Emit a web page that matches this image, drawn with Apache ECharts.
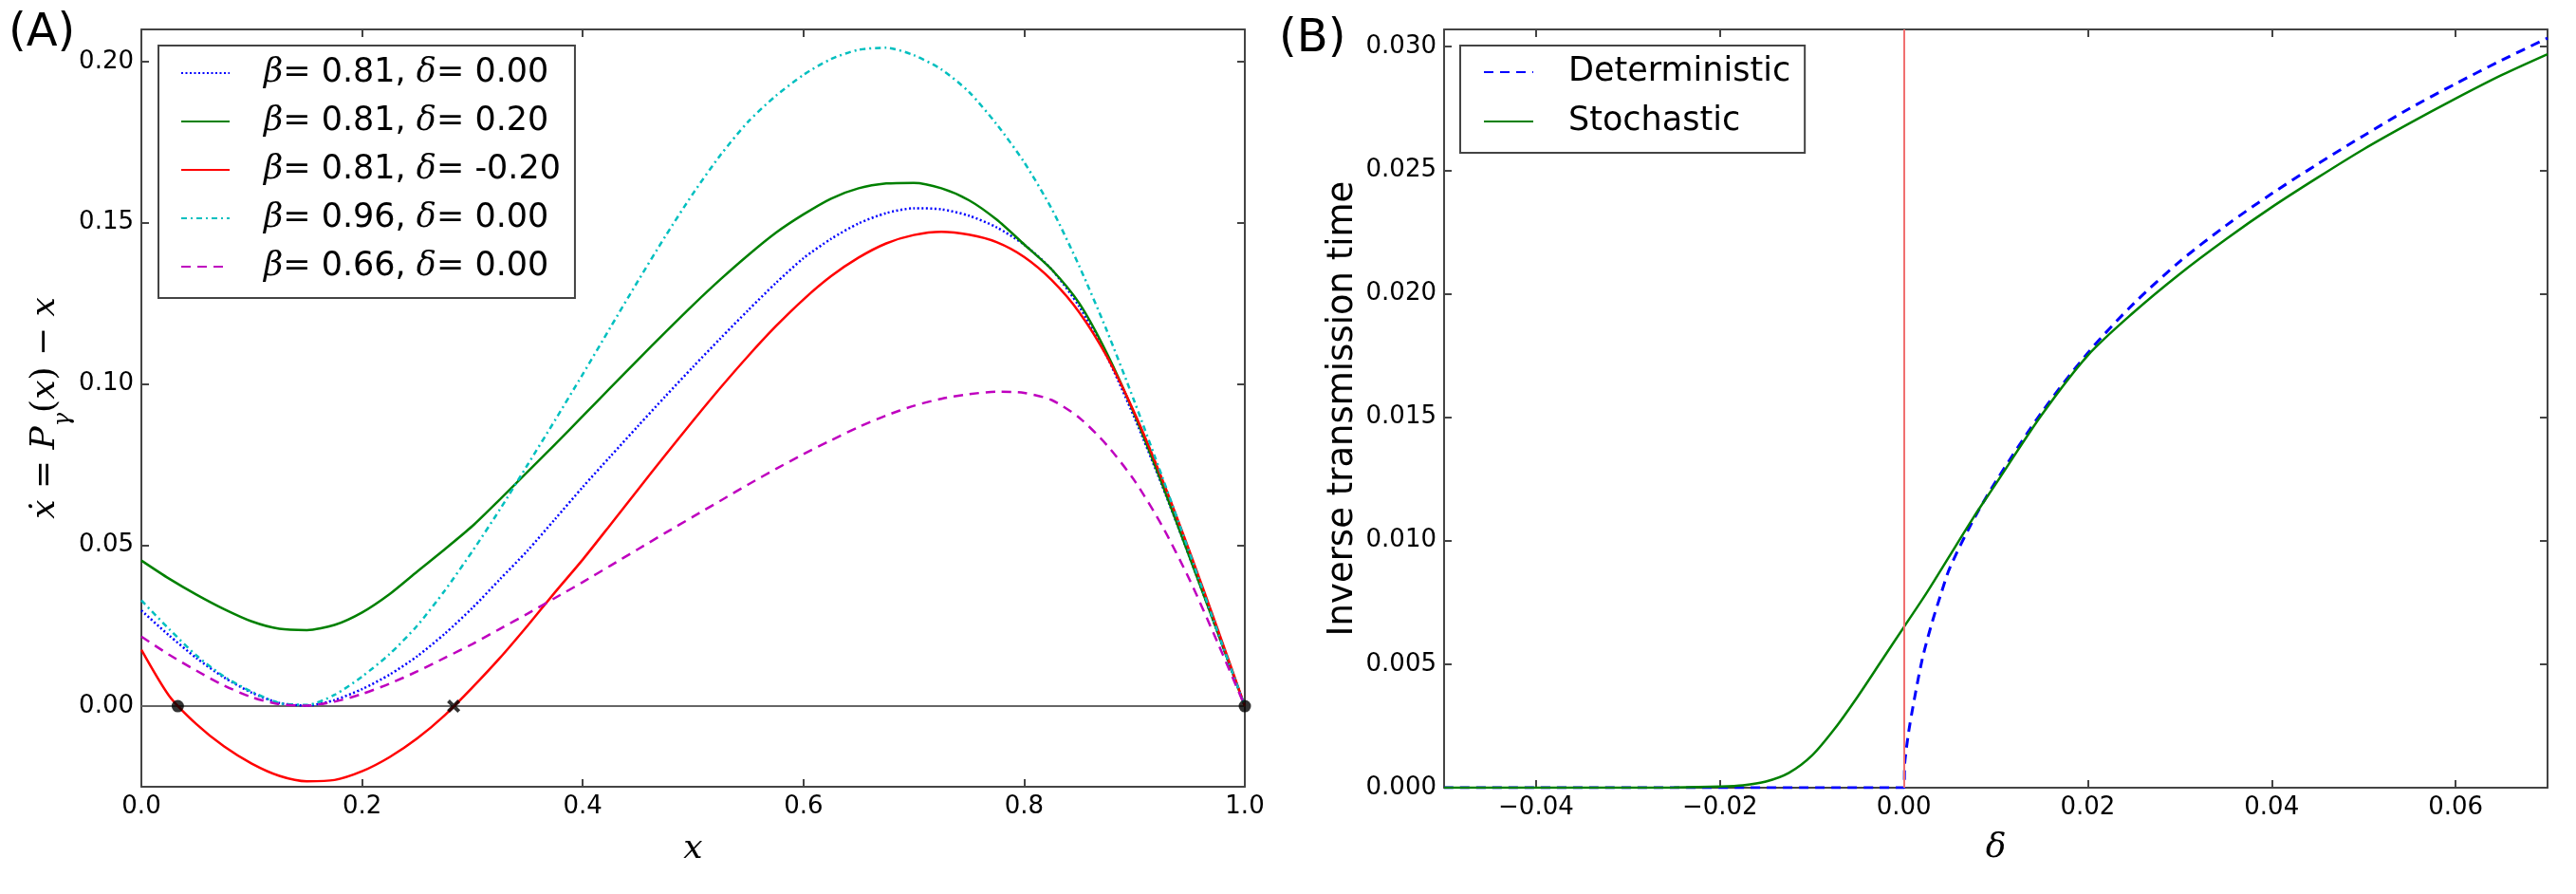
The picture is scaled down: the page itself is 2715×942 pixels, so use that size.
<!DOCTYPE html>
<html>
<head>
    <meta charset="utf-8">
    <title>ECharts</title>
    <script src="https://cdn.jsdelivr.net/npm/echarts@6/dist/echarts.min.js"></script>
    <style>
        body { margin: 0; background: #fff; }
    </style>
</head>
<body>
    <div id="main" style="width: 2715px;height:942px;"></div>
    <script type="text/javascript">
        // panel A: x grid shared by all five curves
        var fracX = [0, 0.025, 0.05, 0.075, 0.1, 0.125, 0.15, 0.175, 0.2, 0.225, 0.25, 0.275, 0.3, 0.325,
            0.35, 0.375, 0.4, 0.425, 0.45, 0.475, 0.5, 0.525, 0.55, 0.575, 0.6, 0.625, 0.65, 0.675,
            0.7, 0.725, 0.75, 0.775, 0.8, 0.825, 0.85, 0.875, 0.9, 0.925, 0.95, 0.975, 1.0];
        var beta081 = [0.0297, 0.0220, 0.0149, 0.0089, 0.0042, 0.0010, 0.0002, 0.0019, 0.0053, 0.0098, 0.0155, 0.0225, 0.0305, 0.0394,
            0.0483, 0.0581, 0.0680, 0.0775, 0.0869, 0.0962, 0.1053, 0.1142, 0.1229, 0.1313, 0.1390, 0.1450, 0.1498, 0.1530,
            0.1545, 0.1542, 0.1522, 0.1486, 0.1432, 0.1355, 0.1240, 0.1085, 0.0895, 0.0685, 0.0462, 0.0232, 0];
        var beta081Up = [0.0452, 0.0396, 0.0346, 0.0301, 0.0263, 0.0240, 0.0236, 0.0252, 0.0291, 0.0348, 0.0418, 0.0487, 0.0559, 0.0642,
            0.0727, 0.0813, 0.0900, 0.0988, 0.1075, 0.1161, 0.1245, 0.1325, 0.1400, 0.1469, 0.1526, 0.1575, 0.1607, 0.1622,
            0.1624, 0.1607, 0.1570, 0.1510, 0.1433, 0.1355, 0.1250, 0.1095, 0.0905, 0.0690, 0.0462, 0.0232, 0];
        var beta081Down = [0.0175, 0.0033, -0.0056, -0.0125, -0.0178, -0.0216, -0.0233, -0.0229, -0.0202, -0.0158, -0.0100, -0.0028, 0.0058, 0.0150,
            0.0250, 0.0354, 0.0455, 0.0563, 0.0672, 0.0780, 0.0886, 0.0989, 0.1087, 0.1179, 0.1262, 0.1334, 0.1392, 0.1436,
            0.1462, 0.1472, 0.1463, 0.1440, 0.1394, 0.1322, 0.1222, 0.1085, 0.0910, 0.0705, 0.0480, 0.0243, 0];
        var beta096 = [0.0328, 0.0240, 0.0157, 0.0092, 0.0045, 0.0010, 0.0004, 0.0035, 0.0092, 0.0162, 0.0250, 0.0359, 0.0481, 0.0611,
            0.0749, 0.0888, 0.1030, 0.1175, 0.1319, 0.1459, 0.1591, 0.1711, 0.1814, 0.1894, 0.1959, 0.2008, 0.2037, 0.2043,
            0.2020, 0.1976, 0.1906, 0.1806, 0.1688, 0.1543, 0.1365, 0.1165, 0.0945, 0.0713, 0.0475, 0.0235, 0];
        var beta066 = [0.0216, 0.0160, 0.0110, 0.0064, 0.0028, 0.0006, 0.0002, 0.0014, 0.0038, 0.0070, 0.0108, 0.0150, 0.0193, 0.0240,
            0.0287, 0.0336, 0.0385, 0.0436, 0.0487, 0.0538, 0.0588, 0.0638, 0.0688, 0.0736, 0.0782, 0.0825, 0.0866, 0.0902,
            0.0932, 0.0954, 0.0968, 0.0976, 0.0972, 0.0950, 0.0895, 0.0810, 0.0700, 0.0560, 0.0392, 0.0200, 0];
        var namesA = ['β= 0.81, δ= 0.00', 'β= 0.81, δ= 0.20', 'β= 0.81, δ= -0.20', 'β= 0.96, δ= 0.00', 'β= 0.66, δ= 0.00'];
        var zeroLineX = [0, 1];
        var stablePts = [[0.033, 0], [1.0, 0]];
        var unstablePts = [[0.283, 0]];
        var ticksAX = [0, 0.2, 0.4, 0.6, 0.8, 1.0];
        var ticksAY = [0, 0.05, 0.10, 0.15, 0.20];

        // panel B
        var detX = [-0.05, 0, 0.0001, 0.0005, 0.001, 0.002, 0.003, 0.004, 0.005, 0.0075, 0.01, 0.015, 0.02,
            0.025, 0.03, 0.035, 0.04, 0.045, 0.05, 0.055, 0.06, 0.065, 0.07];
        var detY = [0, 0, 0.0010, 0.0022, 0.0033, 0.0052, 0.0066, 0.0078, 0.0089, 0.0108, 0.0124, 0.0152, 0.0176,
            0.0196, 0.0213, 0.02275, 0.02405, 0.02525, 0.0264, 0.0275, 0.0285, 0.02945, 0.03035];
        var stoX = [-0.05, -0.03, -0.025, -0.02, -0.0175, -0.015, -0.0125, -0.01, -0.0075, -0.005, -0.0025, 0,
            0.0025, 0.005, 0.0075, 0.01, 0.015, 0.02, 0.025, 0.03, 0.035, 0.04, 0.045, 0.05, 0.055, 0.06, 0.065, 0.07];
        var stoY = [0, 0, 0.00001, 0.00005, 0.0001, 0.00025, 0.0006, 0.0013, 0.0024, 0.0037, 0.0051, 0.0065,
            0.0079, 0.0094, 0.0109, 0.0123, 0.0151, 0.0175, 0.01925, 0.0208, 0.0222, 0.0235, 0.0247, 0.02585, 0.0269, 0.0279, 0.02885, 0.0297];
        var namesB = ['Deterministic', 'Stochastic'];
        var thresholdX = 0;
        var ticksBX = [-0.04, -0.02, 0, 0.02, 0.04, 0.06];
        var ticksBY = [0, 0.005, 0.010, 0.015, 0.020, 0.025, 0.030];

        function pairs(xs, ys) {
            return xs.map(function (x, i) { return [x, ys[i]]; });
        }
        function minus(s) { return s.replace('-', '\u2212'); }

        var SANS = 'DejaVu Sans';
        var SERIF = 'DejaVu Serif';
        var frame = { show: true, onZero: false, lineStyle: { color: '#444', width: 2 } };
        var tick = { show: true, inside: true, length: 8, lineStyle: { color: '#444', width: 2 } };
        var tickLabel = { fontSize: 26, fontFamily: SANS, color: '#000', margin: 8 };

        function axis(o) {
            var a = {
                type: 'value', gridIndex: o.grid, position: o.pos, min: o.min, max: o.max,
                axisLine: frame, splitLine: { show: false },
                axisTick: Object.assign({}, tick, { customValues: o.ticks }),
                axisLabel: Object.assign({}, tickLabel, { show: !!o.fmt, customValues: o.ticks, formatter: o.fmt })
            };
            if (o.name) {
                a.name = o.name;
                a.nameLocation = 'middle';
                a.nameGap = o.gap;
                a.nameTextStyle = o.nameStyle;
            }
            return a;
        }

        var legendRich = {
            p: { width: 31 },
            g: { fontFamily: SERIF, fontStyle: 'italic', fontSize: 35, color: '#000' },
            e: { fontFamily: SERIF, fontSize: 35, color: '#000' }
        };
        // line-only legend samples: hide the marker that line legends draw in the middle
        var noMarker = { color: 'rgba(0,0,0,0)', borderWidth: 0 };
        var SMOOTH = 0.25;

        var myChart = echarts.init(document.getElementById('main'), null, { renderer: 'canvas' });

        option = {
  animation: false,
  backgroundColor: '#fff',
  title: [
    { text: '(A)', left: 9, top: 12, padding: 0,
      textStyle: { fontSize: 48, fontWeight: 'normal', fontFamily: SANS, color: '#000' } },
    { text: '(B)', left: 1348, top: 18, padding: 0,
      textStyle: { fontSize: 48, fontWeight: 'normal', fontFamily: SANS, color: '#000' } }
  ],
  grid: [
    { left: 149, right: 1403, top: 31, bottom: 113 },
    { left: 1522, right: 30, top: 31, bottom: 112 }
  ],
  legend: [
    {
      data: namesA, orient: 'vertical', left: 167, top: 48,
      padding: [9, 15, 13, 23], itemGap: 11, itemWidth: 51, itemHeight: 20,
      borderColor: '#444', borderWidth: 2, backgroundColor: '#fff',
      itemStyle: noMarker,
      textStyle: { fontSize: 35, fontFamily: SANS, color: '#000', lineHeight: 40, rich: legendRich },
      formatter: function (name) {
        return '{p|}' + name.replace(/([βδ])=/g, '{g|$1}{e|=}');
      }
    },
    {
      data: namesB, orient: 'vertical', left: 1539, top: 48,
      padding: [8, 15, 13, 24], itemGap: 12, itemWidth: 52, itemHeight: 20,
      borderColor: '#444', borderWidth: 2, backgroundColor: '#fff',
      itemStyle: noMarker,
      textStyle: { fontSize: 35, fontFamily: SANS, color: '#000', lineHeight: 40, rich: { p: { width: 32 } } },
      formatter: function (name) { return '{p|}' + name; }
    }
  ],
  xAxis: [
    axis({ grid: 0, pos: 'bottom', min: 0, max: 1, ticks: ticksAX,
      fmt: function (v) { return v.toFixed(1); },
      name: 'x', gap: 48,
      nameStyle: { fontFamily: SERIF, fontStyle: 'italic', fontSize: 36, color: '#000' } }),
    axis({ grid: 0, pos: 'top', min: 0, max: 1, ticks: ticksAX }),
    axis({ grid: 1, pos: 'bottom', min: -0.05, max: 0.07, ticks: ticksBX,
      fmt: function (v) { return minus(v.toFixed(2)); },
      name: 'δ', gap: 46,
      nameStyle: { fontFamily: SERIF, fontStyle: 'italic', fontSize: 36, color: '#000' } }),
    axis({ grid: 1, pos: 'top', min: -0.05, max: 0.07, ticks: ticksBX })
  ],
  yAxis: [
    axis({ grid: 0, pos: 'left', min: -0.025, max: 0.21, ticks: ticksAY,
      fmt: function (v) { return v.toFixed(2); },
      name: '{i|ẋ}{u| = }{i|P}{s|γ}{u|(}{i|x}{u|) − }{i|x}', gap: 70,
      nameStyle: {
        fontFamily: SERIF, fontSize: 36, color: '#000',
        rich: {
          i: { fontFamily: SERIF, fontStyle: 'italic', fontSize: 36, lineHeight: 40, verticalAlign: 'top' },
          u: { fontFamily: SERIF, fontSize: 36, lineHeight: 40, verticalAlign: 'top' },
          s: { fontFamily: SERIF, fontStyle: 'italic', fontSize: 24, lineHeight: 24, padding: [26, 0, 0, 0], verticalAlign: 'top' }
        }
      } }),
    axis({ grid: 0, pos: 'right', min: -0.025, max: 0.21, ticks: ticksAY }),
    axis({ grid: 1, pos: 'left', min: 0, max: 0.0307, ticks: ticksBY,
      fmt: function (v) { return v.toFixed(3); },
      name: 'Inverse transmission time', gap: 88,
      nameStyle: { fontFamily: SANS, fontSize: 37, color: '#000' } }),
    axis({ grid: 1, pos: 'right', min: 0, max: 0.0307, ticks: ticksBY })
  ],
  series: [
    { name: 'zero', type: 'line', xAxisIndex: 0, yAxisIndex: 0, symbol: 'none', silent: true,
      data: zeroLineX.map(function (x) { return [x, 0]; }),
      lineStyle: { color: '#666', width: 2 } },
    { name: namesA[0], type: 'line', xAxisIndex: 0, yAxisIndex: 0, symbol: 'none', smooth: SMOOTH,
      data: pairs(fracX, beta081), color: '#0000ff',
      lineStyle: { color: '#0000ff', width: 2.5, type: [2, 2.5] } },
    { name: namesA[1], type: 'line', xAxisIndex: 0, yAxisIndex: 0, symbol: 'none', smooth: SMOOTH,
      data: pairs(fracX, beta081Up), color: '#008000',
      lineStyle: { color: '#008000', width: 2.5 } },
    { name: namesA[2], type: 'line', xAxisIndex: 0, yAxisIndex: 0, symbol: 'none', smooth: SMOOTH,
      data: pairs(fracX, beta081Down), color: '#ff0000',
      lineStyle: { color: '#ff0000', width: 2.5 } },
    { name: namesA[3], type: 'line', xAxisIndex: 0, yAxisIndex: 0, symbol: 'none', smooth: SMOOTH,
      data: pairs(fracX, beta096), color: '#00bfbf',
      lineStyle: { color: '#00bfbf', width: 2.5, type: [6, 4, 2, 4] } },
    { name: namesA[4], type: 'line', xAxisIndex: 0, yAxisIndex: 0, symbol: 'none', smooth: SMOOTH,
      data: pairs(fracX, beta066), color: '#bf00bf',
      lineStyle: { color: '#bf00bf', width: 2.5, type: [10, 7] } },
    { name: 'stable', type: 'scatter', xAxisIndex: 0, yAxisIndex: 0, symbol: 'circle', symbolSize: 13,
      data: stablePts, itemStyle: { color: '#000' }, z: 5 },
    { name: 'unstable', type: 'scatter', xAxisIndex: 0, yAxisIndex: 0, symbolSize: 14, z: 5,
      symbol: 'path://M2,0L5,3L8,0L10,2L7,5L10,8L8,10L5,7L2,10L0,8L3,5L0,2Z',
      data: unstablePts, itemStyle: { color: '#000' } },

    { name: namesB[0], type: 'line', xAxisIndex: 2, yAxisIndex: 2, symbol: 'none', smooth: 0.3,
      data: pairs(detX, detY), color: '#0000ff',
      lineStyle: { color: '#0000ff', width: 3, type: [10, 7] },
      markLine: { silent: true, symbol: ['none', 'none'], label: { show: false },
        lineStyle: { color: '#f07070', width: 2, type: 'solid' },
        data: [{ xAxis: thresholdX }] } },
    { name: namesB[1], type: 'line', xAxisIndex: 2, yAxisIndex: 2, symbol: 'none', smooth: 0.3,
      data: pairs(stoX, stoY), color: '#008000',
      lineStyle: { color: '#008000', width: 2.5 } }
  ]
};

        myChart.setOption(option);
    </script>
</body>
</html>
